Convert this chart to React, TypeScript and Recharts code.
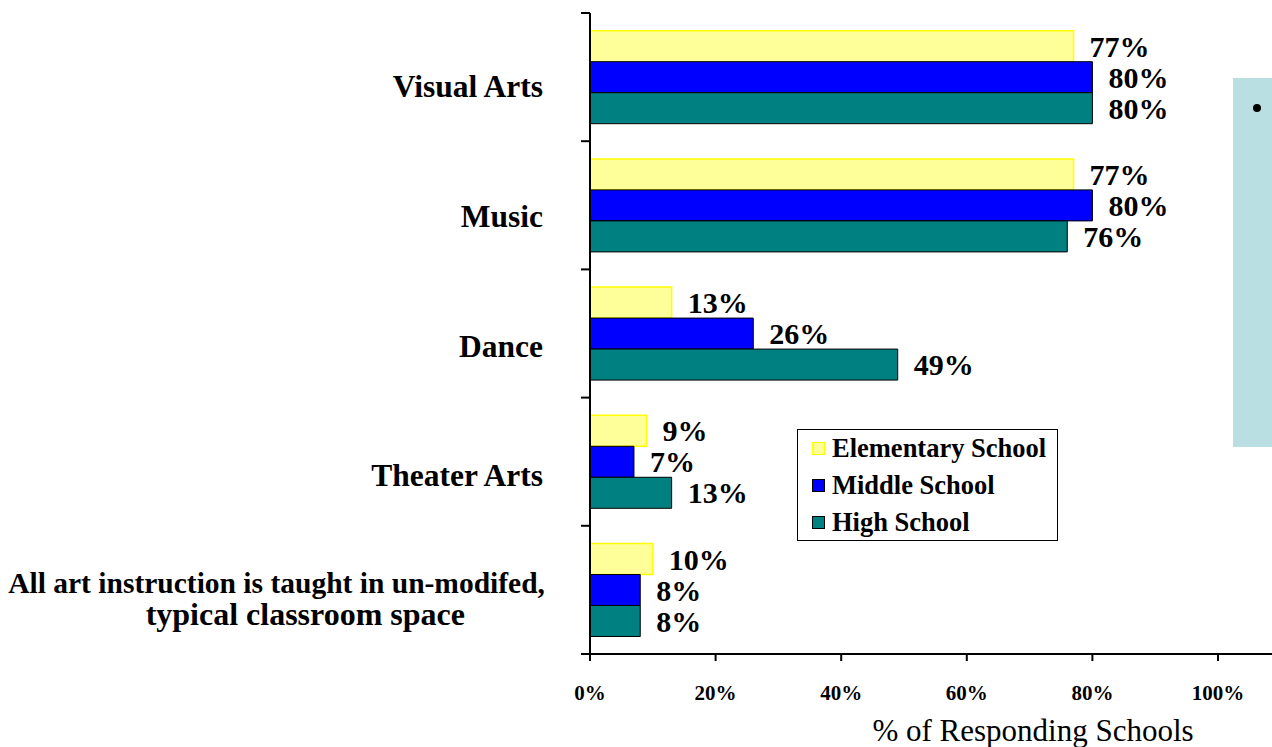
import React from 'react';
import { BarChart, Bar, XAxis, YAxis, Legend, LabelList } from 'recharts';

const categories = [
  'Visual Arts',
  'Music',
  'Dance',
  'Theater Arts',
  'All art instruction is taught in un-modifed,\ntypical classroom space',
];
const elementary = [77, 77, 13, 9, 10];
const middle = [80, 80, 26, 7, 8];
const high = [80, 76, 49, 13, 8];
const xTicks = [0, 20, 40, 60, 80, 100];
const seriesNames = ['Elementary School', 'Middle School', 'High School'];

const serif = "'Times New Roman', 'Liberation Serif', serif";

const data = categories.map((name, i) => ({
  name,
  elementary: elementary[i],
  middle: middle[i],
  high: high[i],
}));

const swatches = [
  { fill: '#FFFF99', stroke: '#FFFF00' },
  { fill: '#0000FF', stroke: '#000' },
  { fill: '#008080', stroke: '#000' },
];

function CategoryTick(props: any) {
  const { x, y, payload } = props;
  const half = payload.offset ?? 64;
  const idx = categories.indexOf(payload.value);
  const lines = String(payload.value).split('\n');
  const textStyle = { fontFamily: serif, fontWeight: 'bold' as const, fill: '#000' };
  return (
    <g>
      <line x1={x - 9} x2={x} y1={y - half} y2={y - half} stroke="#000" strokeWidth={2} />
      {idx === categories.length - 1 && (
        <line x1={x - 9} x2={x} y1={y + half} y2={y + half} stroke="#000" strokeWidth={2} />
      )}
      {lines.length === 1 ? (
        <text x={x - 47} y={y + 20 + idx * 1.5} textAnchor="end" fontSize={31.5} {...textStyle}>{lines[0]}</text>
      ) : (
        <>
          <text x={x - 45} y={y + 3} textAnchor="end" fontSize={29.5} {...textStyle}>{lines[0]}</text>
          <text x={x - 125} y={y + 35} textAnchor="end" fontSize={32} {...textStyle}>{lines[1]}</text>
        </>
      )}
    </g>
  );
}

function LegendBox() {
  return (
    <div style={{ width: 261, height: 112, border: '1.5px solid #000', boxSizing: 'border-box', background: '#fff', paddingTop: 0 }}>
      {seriesNames.map((s, i) => (
        <div key={s} style={{ display: 'flex', alignItems: 'center', height: 37, paddingLeft: 14 }}>
          <span style={{ width: 11, height: 11, background: swatches[i].fill, border: `1.5px solid ${swatches[i].stroke}`, marginRight: 7 }} />
          <span style={{ fontFamily: serif, fontWeight: 'bold', fontSize: 26.5, color: '#000', lineHeight: 1 }}>{s}</span>
        </div>
      ))}
    </div>
  );
}

export default function App() {
  return (
    <div style={{ position: 'fixed', left: 0, top: 0, width: 1272, height: 747, overflow: 'hidden', background: '#fff' }}>
      <BarChart
        width={1272}
        height={747}
        data={data}
        layout="vertical"
        margin={{ top: 13, right: 0, left: 0, bottom: 0 }}
        barCategoryGap="13.8%"
        barGap={0}
      >
        <XAxis
          type="number"
          domain={[0, 108.6]}
          ticks={xTicks}
          allowDataOverflow
          height={93}
          tickSize={7}
          tickMargin={24}
          tickFormatter={(v: number) => `${v}%`}
          axisLine={{ stroke: '#000', strokeWidth: 2 }}
          tickLine={{ stroke: '#000', strokeWidth: 2 }}
          tick={{ fontFamily: serif, fontWeight: 'bold', fontSize: 21, fill: '#000' }}
          label={{
            content: () => (
              <text x={1033} y={741} textAnchor="middle" fontFamily={serif} fontSize={31} fill="#000">
                % of Responding Schools
              </text>
            ),
          }}
        />
        <YAxis
          type="category"
          dataKey="name"
          width={590}
          tickSize={0}
          tickMargin={0}
          tickLine={false}
          axisLine={{ stroke: '#000', strokeWidth: 2 }}
          tick={<CategoryTick />}
          interval={0}
        />
        <Legend
          layout="horizontal"
          verticalAlign="middle"
          align="center"
          content={() => <LegendBox />}
          wrapperStyle={{ left: 797, top: 429, width: 261, height: 112 }}
        />
        <Bar dataKey="elementary" name={seriesNames[0]} fill="#FFFF99" stroke="#FFFF00" strokeWidth={1.5} isAnimationActive={false}>
          <LabelList dataKey="elementary" position="right" offset={16} formatter={(v: any) => `${v}%`} fill="#000" fontSize={30} fontWeight="bold" fontFamily={serif} />
        </Bar>
        <Bar dataKey="middle" name={seriesNames[1]} fill="#0000FF" stroke="#000" strokeWidth={1} isAnimationActive={false}>
          <LabelList dataKey="middle" position="right" offset={16} formatter={(v: any) => `${v}%`} fill="#000" fontSize={30} fontWeight="bold" fontFamily={serif} />
        </Bar>
        <Bar dataKey="high" name={seriesNames[2]} fill="#008080" stroke="#000" strokeWidth={1} isAnimationActive={false}>
          <LabelList dataKey="high" position="right" offset={16} formatter={(v: any) => `${v}%`} fill="#000" fontSize={30} fontWeight="bold" fontFamily={serif} />
        </Bar>
      </BarChart>
      <div style={{ position: 'absolute', left: 1233, top: 78, width: 39, height: 369, background: '#BADFE2' }}>
        <div style={{ position: 'absolute', left: 20, top: 26, width: 8, height: 8, borderRadius: 4, background: '#000' }} />
      </div>
    </div>
  );
}
